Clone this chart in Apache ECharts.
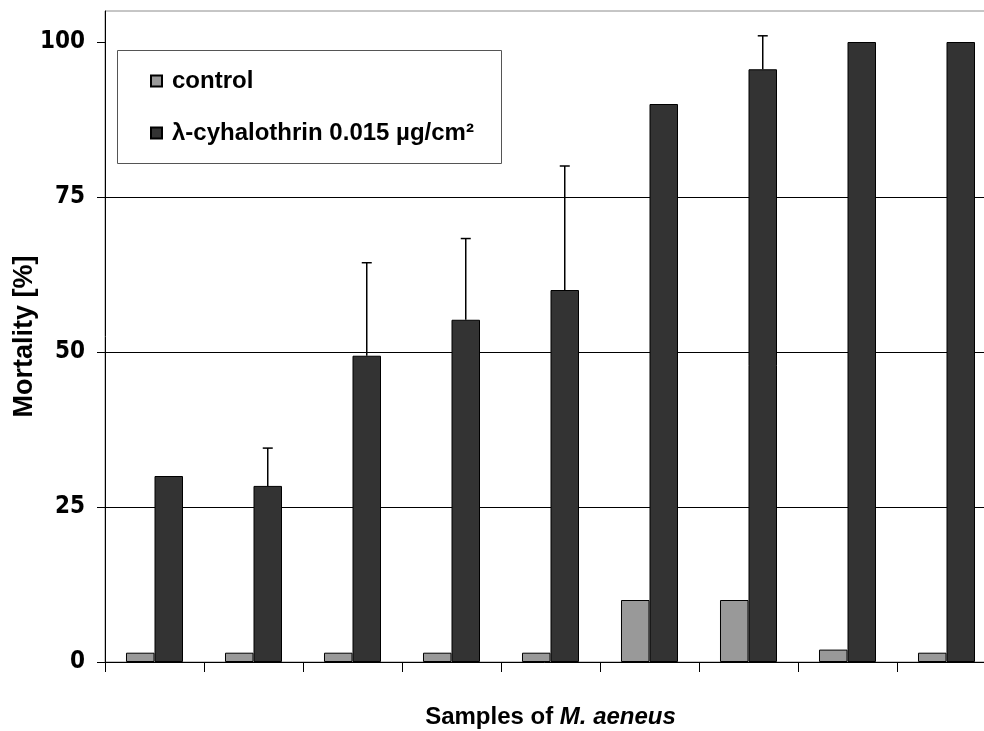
<!DOCTYPE html>
<html>
<head>
<meta charset="utf-8">
<style>
  html, body { margin: 0; padding: 0; background: #fff; }
  #chart { width: 984px; height: 731px; }
</style>
<script src="https://cdn.jsdelivr.net/npm/echarts@6/dist/echarts.min.js"></script>
</head>
<body>
<div id="chart"></div>
<script>
// Samples of M. aeneus, mortality in percent
const samples = ['S1', 'S2', 'S3', 'S4', 'S5', 'S6', 'S7', 'S8', 'S9'];
const controlValues = [1.5, 1.5, 1.5, 1.5, 1.5, 10, 10, 2, 1.5];
const lambdaValues = [30, 28.4, 49.4, 55.2, 60, 90, 95.6, 100, 100];
// upper error (standard deviation); 0 = no error bar
const lambdaErrors = [0, 6.1, 15, 13.1, 20, 0, 5.4, 0, 0];
const yTicks = [0, 25, 50, 75, 100];

const condensed = '"DejaVu Sans Condensed", "Liberation Sans", Arial, sans-serif';
const sans = '"Liberation Sans", Arial, sans-serif';

const BAR_FRACTION = 0.288; // bar width as share of the category band

const errorData = [];
lambdaErrors.forEach((e, i) => {
  if (e > 0) errorData.push([i, lambdaValues[i], e]);
});

const chart = echarts.init(document.getElementById('chart'), null, { renderer: 'canvas' });

chart.setOption({
  animation: false,
  backgroundColor: '#fff',
  grid: {
    left: 105, top: 11, width: 891, height: 651,
    outerBoundsMode: 'none',
    containLabel: false,
    show: true, borderColor: '#8c8c8c', borderWidth: 1, backgroundColor: 'transparent'
  },
  graphic: [{
    type: 'rect',
    left: 117, top: 50,
    shape: { width: 384, height: 113 },
    style: { fill: '#fff', stroke: '#555', lineWidth: 1 },
    z: 10
  }],
  legend: {
    orient: 'vertical',
    left: 150, top: 68,
    padding: 0,
    itemWidth: 11, itemHeight: 11,
    itemGap: 26,
    icon: 'rect',
    z: 20,
    textStyle: {
      fontFamily: sans, fontWeight: 'bold', fontSize: 24, color: '#000',
      lineHeight: 26, padding: [0, 0, 0, 5]
    },
    data: ['control', 'λ-cyhalothrin 0.015 µg/cm²']
  },
  xAxis: {
    type: 'category',
    data: samples,
    axisLine: { lineStyle: { color: '#000', width: 1 } },
    axisTick: { show: true, length: 10, lineStyle: { color: '#000' } },
    axisLabel: { show: false },
    splitLine: { show: false },
    name: '{n|Samples of }{i|M. aeneus}',
    nameLocation: 'middle',
    nameGap: 43,
    nameMoveOverlap: false,
    nameTextStyle: {
      rich: {
        n: { fontFamily: sans, fontWeight: 'bold', fontSize: 24, color: '#000' },
        i: { fontFamily: sans, fontWeight: 'bold', fontStyle: 'italic', fontSize: 24, color: '#000' }
      }
    }
  },
  yAxis: {
    type: 'value',
    min: 0, max: 105, interval: 25,
    axisLine: { show: true, lineStyle: { color: '#000', width: 1 } },
    axisTick: { show: true, length: 8, lineStyle: { color: '#000' }, customValues: yTicks },
    axisLabel: {
      customValues: yTicks,
      margin: 20,
      fontFamily: condensed, fontWeight: 'bold', fontSize: 24, color: '#000'
    },
    splitLine: { show: true, showMaxLine: false, showMinLine: false, lineStyle: { color: '#000', width: 1 } },
    name: 'Mortality [%]',
    nameLocation: 'middle',
    nameRotate: 90,
    nameGap: 67,
    nameMoveOverlap: false,
    nameTextStyle: { fontFamily: sans, fontWeight: 'bold', fontSize: 27, color: '#000' }
  },
  series: [
    {
      name: 'control',
      type: 'bar',
      data: controlValues,
      barWidth: (BAR_FRACTION * 100) + '%',
      barGap: '0%',
      itemStyle: { color: '#999999', borderColor: '#000', borderWidth: 1 }
    },
    {
      name: 'λ-cyhalothrin 0.015 µg/cm²',
      type: 'bar',
      data: lambdaValues,
      barWidth: (BAR_FRACTION * 100) + '%',
      barGap: '0%',
      itemStyle: { color: '#333333', borderColor: '#000', borderWidth: 1 }
    },
    {
      name: 'error',
      type: 'custom',
      data: errorData,
      z: 5,
      renderItem: function (params, api) {
        const band = api.size([1, 0])[0];
        const x = api.coord([api.value(0), 0])[0] + band * BAR_FRACTION / 2;
        const yBar = api.coord([api.value(0), api.value(1)])[1];
        const yTop = api.coord([api.value(0), api.value(1) + api.value(2)])[1];
        const style = { stroke: '#000', lineWidth: 1.5 };
        return {
          type: 'group',
          children: [
            { type: 'line', shape: { x1: x, y1: yBar, x2: x, y2: yTop }, style: style },
            { type: 'line', shape: { x1: x - 5, y1: yTop, x2: x + 5, y2: yTop }, style: style }
          ]
        };
      }
    }
  ]
});
</script>
</body>
</html>
